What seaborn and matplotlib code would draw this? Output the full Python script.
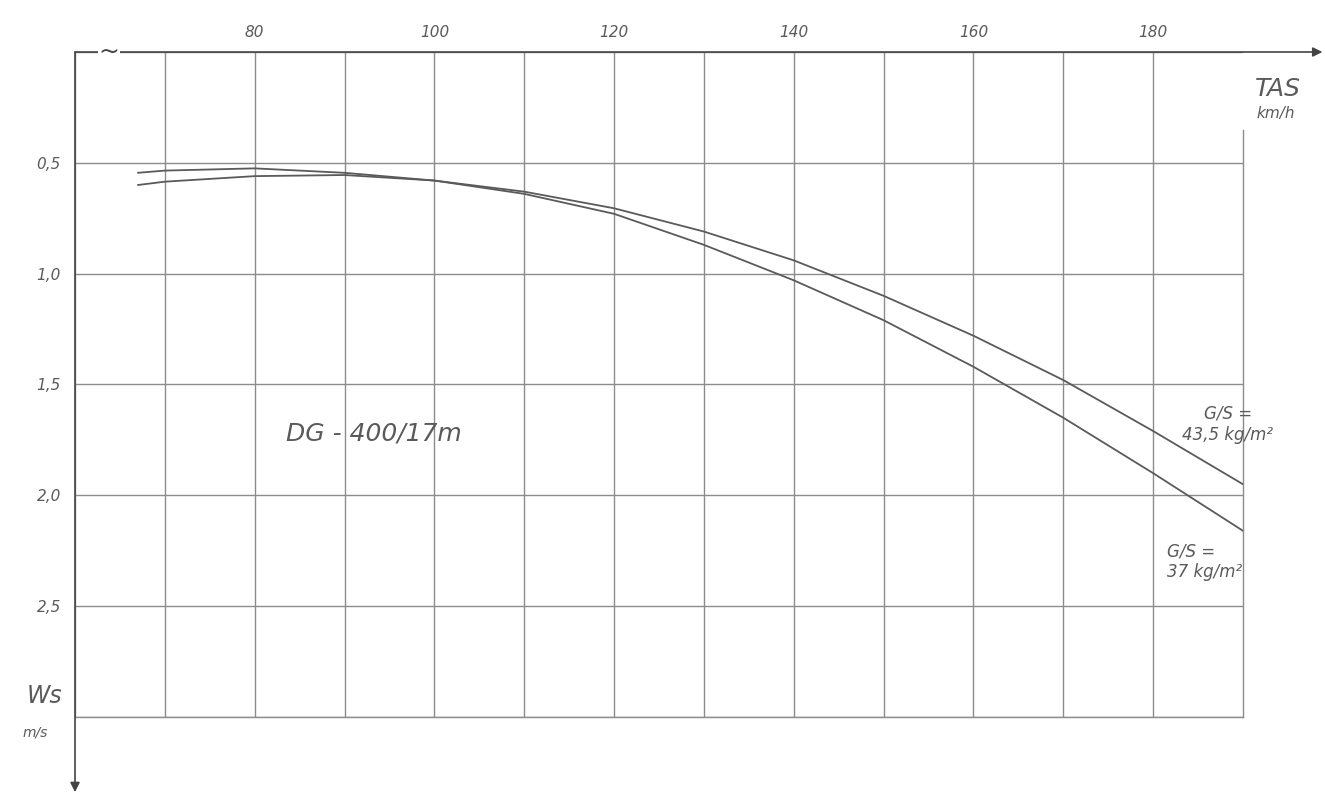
"""Speed polar of the DG-400/17m, redrawn from a hand-drawn chart."""
import matplotlib
matplotlib.use("Agg")
import matplotlib.pyplot as plt
import pandas as pd
import seaborn as sns
from matplotlib.ticker import FuncFormatter, MultipleLocator

# True air speed (km/h) and sink rate (m/s).
speed_37 = [67, 70, 80, 90, 100, 110, 120, 130, 140, 150, 160, 170, 180, 190]
sink_37 = [0.545, 0.535, 0.525, 0.545, 0.58, 0.64, 0.73, 0.87, 1.03, 1.21, 1.42, 1.65, 1.90, 2.16]

speed_435 = [67, 70, 80, 90, 100, 110, 120, 130, 140, 150, 160, 170, 180, 190]
sink_435 = [0.60, 0.585, 0.56, 0.555, 0.58, 0.63, 0.705, 0.81, 0.94, 1.10, 1.28, 1.48, 1.71, 1.95]

loading_labels = ["G/S =\n37 kg/m²", "G/S =\n43,5 kg/m²"]
x_grid = [60, 70, 80, 90, 100, 110, 120, 130, 140, 150, 160, 170, 180]
x_labelled = [80, 100, 120, 140, 160, 180]
y_labelled = [0.5, 1.0, 1.5, 2.0, 2.5]

INK = "#5a5a5a"
GRID = "#8c8c8c"

df = pd.concat(
    [
        pd.DataFrame({"tas": speed_37, "ws": sink_37, "load": loading_labels[0]}),
        pd.DataFrame({"tas": speed_435, "ws": sink_435, "load": loading_labels[1]}),
    ],
    ignore_index=True,
)

sns.set_theme(style="white")
plt.rcParams["font.family"] = ["DejaVu Sans"]

fig = plt.figure(figsize=(13.25, 7.94), dpi=100, facecolor="white")
ax = fig.add_axes([0.0566, 0.097, 0.8815, 0.8375])

sns.lineplot(
    data=df, x="tas", y="ws", hue="load",
    palette={loading_labels[0]: INK, loading_labels[1]: INK},
    linewidth=1.3, legend=False, ax=ax, zorder=3,
)

ax.set_xlim(60, 190)
ax.set_ylim(3.0, 0)
ax.set_xticks(x_grid)
ax.yaxis.set_major_locator(MultipleLocator(0.5))
ax.xaxis.tick_top()
ax.xaxis.set_major_formatter(
    FuncFormatter(lambda v, _: f"{int(round(v))}" if round(v) in x_labelled else "")
)
ax.yaxis.set_major_formatter(
    FuncFormatter(lambda v, _: f"{v:.1f}".replace(".", ",") if round(v, 1) in y_labelled else "")
)
ax.tick_params(length=0, labelsize=11, labelcolor=INK)
ax.tick_params(axis="x", pad=9)
ax.tick_params(axis="y", pad=10)
for lab in ax.get_xticklabels() + ax.get_yticklabels():
    lab.set_fontstyle("italic")

ax.grid(True, color=GRID, linewidth=1.0)
ax.set_xlabel("")
ax.set_ylabel("")

for side in ("top", "left"):
    ax.spines[side].set_visible(False)
for side in ("bottom", "right"):
    ax.spines[side].set_color(GRID)
    ax.spines[side].set_linewidth(1.0)
# The right-hand grid edge stops short of the TAS label.
ax.spines["right"].set_bounds(3.0, 0.35)

# Axis lines with arrows running past the grid.
arrow = dict(arrowstyle="-|>", color="#444", lw=1.2, mutation_scale=14, shrinkA=0, shrinkB=0)
ax.annotate("", xy=(1.068, 1.0), xytext=(0, 1.0), xycoords="axes fraction",
            arrowprops=arrow, annotation_clip=False)
ax.annotate("", xy=(0, -0.113), xytext=(0, 1.0), xycoords="axes fraction",
            arrowprops=arrow, annotation_clip=False)

# Axis-break squiggle near the origin.
ax.text(63.8, 0, "~", fontsize=18, color="#444", ha="center", va="center",
        clip_on=False, zorder=5,
        bbox=dict(facecolor="white", edgecolor="none", pad=0.5))

# Axis titles.
ax.text(1.030, 0.945, "TAS", transform=ax.transAxes, fontsize=18, color=INK,
        style="italic", ha="center", va="center", zorder=5)
ax.text(1.028, 0.907, "km/h", transform=ax.transAxes, fontsize=11, color=INK,
        style="italic", ha="center", va="center", zorder=5)
ax.text(-0.026, 0.031, "Ws", transform=ax.transAxes, fontsize=17, color=INK,
        style="italic", ha="center", va="center")
ax.text(-0.034, -0.024, "m/s", transform=ax.transAxes, fontsize=10, color=INK,
        style="italic", ha="center", va="center")

ax.text(83.5, 1.72, "DG - 400/17m", fontsize=18, color=INK, style="italic",
        ha="left", va="center")

# Wing-loading labels next to the right-hand curve ends.
ax.text(188.3, 1.68, loading_labels[1], fontsize=12, color=INK, style="italic",
        ha="center", va="center", linespacing=1.2, multialignment="center")
ax.text(181.5, 2.30, loading_labels[0], fontsize=12, color=INK, style="italic",
        ha="left", va="center", linespacing=1.2)

fig.savefig("out.png", dpi=100, facecolor="white")
plt.close(fig)
